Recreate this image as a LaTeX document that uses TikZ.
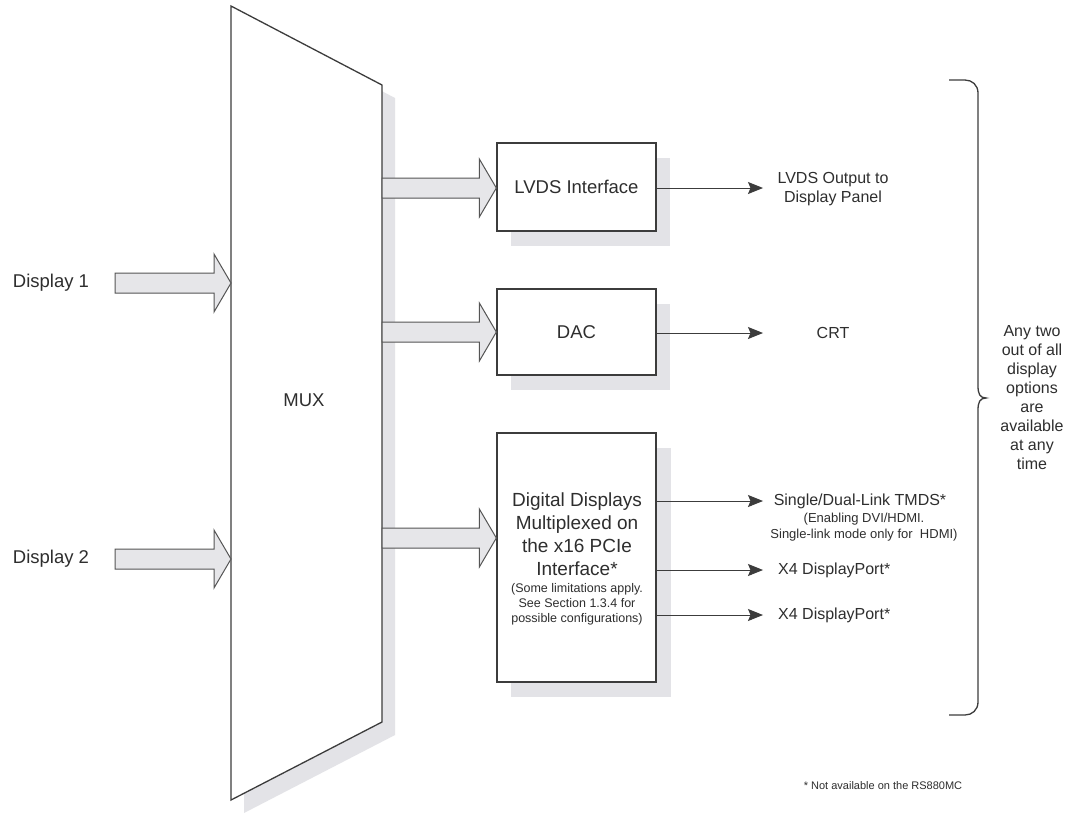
\documentclass[tikz,border=0pt]{standalone}
\usepackage{fontspec}
\setmainfont{Liberation Sans}
\usetikzlibrary{arrows.meta,calc}
\definecolor{txt}{HTML}{2E2E2E}
\definecolor{ln}{HTML}{3C3C3C}
\definecolor{shd}{HTML}{E3E3E7}
\definecolor{afill}{HTML}{E6E6E9}
\definecolor{aedge}{HTML}{555555}
\newcommand\fatarrow[2]{%
  \draw[fat] ($(#1)+(0,-10)$) -- ($(#2)+(-17,-10)$) -- ($(#2)+(-17,-29)$) -- (#2)
    -- ($(#2)+(-17,29)$) -- ($(#2)+(-17,10)$) -- ($(#1)+(0,10)$) -- cycle;}
\begin{document}
\begin{tikzpicture}[x=1pt,y=-1pt,
  every node/.style={text=txt, inner sep=0pt},
  blk/.style={draw=ln, line width=1.3pt, fill=white, minimum width=159pt},
  fat/.style={draw=aedge, line width=1pt, fill=afill},
  thin/.style={draw=ln, line width=1pt, -{Stealth[length=15pt,width=12pt,inset=2.5pt]}},
  big/.style={font=\fontsize{18.5}{22}\selectfont, align=center},
  lab/.style={font=\fontsize{16}{19}\selectfont, align=center},
  small/.style={font=\fontsize{13}{15.5}\selectfont, align=center}]

\useasboundingbox (0,0) rectangle (1067,812);
\fill[white] (0,0) rectangle (1067,812);

% MUX with shadow
\fill[shd] (244,19) -- (395,98) -- (395,735) -- (244,813) -- cycle;
\draw[draw=ln, line width=1.3pt, fill=white] (231,6) -- (382,85) -- (382,722) -- (231,800) -- cycle;
\node[big] (mux) at (304,400) {MUX};

% box shadows
\fill[shd] (511,158) rectangle (670,246);
\fill[shd] (511,304) rectangle (670,390);
\fill[shd] (511,448) rectangle (671,697);

% boxes
\node[blk, minimum height=88pt] (lvds) at (576.5,187) {};
\node[big] at (lvds.center) {LVDS Interface};
\node[blk, minimum height=86pt] (dac) at (576.5,332) {};
\node[big] at (dac.center) {DAC};
\node[blk, minimum height=249pt] (dig) at (576.5,557.5) {};
\node[font=\fontsize{19}{23}\selectfont, align=center] (digtxt) at (577,534)
  {Digital Displays\\Multiplexed on\\the x16 PCIe\\Interface*};
\node[font=\fontsize{12.5}{15}\selectfont, align=center] (diglim) at (577,604)
  {(Some limitations apply.\\See Section 1.3.4 for\\possible configurations)};

% inputs
\node[big] (d1) at (51,283) {Display 1};
\node[big] (d2) at (51,559) {Display 2};
\coordinate (d1tail) at (115,283);
\coordinate (d1tip) at (231,283);
\coordinate (d2tail) at (115,559);
\coordinate (d2tip) at (231,559);
\fatarrow{d1tail}{d1tip}
\fatarrow{d2tail}{d2tip}

% MUX to blocks
\coordinate (m1) at (382,188);
\coordinate (m2) at (382,332);
\coordinate (m3) at (382,538);
\fatarrow{m1}{lvds.west |- m1}
\fatarrow{m2}{dac.west |- m2}
\fatarrow{m3}{dig.west |- m3}

% outputs
\node[lab] (lvdsout) at (833,189) {LVDS Output to\\Display Panel};
\node[lab] (crt) at (833,333) {CRT};
\node[lab] (tmds) at (860,501) {Single/Dual-Link TMDS*};
\node[small] (tmdsnote) at (864,527) {(Enabling DVI/HDMI.\\Single-link mode only for\ \ HDMI)};
\node[lab, anchor=west] (dp1) at (778,570) {X4 DisplayPort*};
\node[lab, anchor=west] (dp2) at (778,615) {X4 DisplayPort*};

\coordinate (o1) at (763,188);
\coordinate (o2) at (763,333);
\coordinate (o3) at (763,501);
\coordinate (o4) at (763,570);
\coordinate (o5) at (763,615);
\draw[thin] (lvds.east |- o1) -- (o1);
\draw[thin] (dac.east |- o2) -- (o2);
\draw[thin] (dig.east |- o3) -- (o3);
\draw[thin] (dig.east |- o4) -- (o4);
\draw[thin] (dig.east |- o5) -- (o5);

% brace
\draw[draw=ln, line width=1.3pt] (949,80) -- (965,80) .. controls (972,80) and (978,85) .. (978,93)
  -- (978,386) .. controls (978,394) and (980,398) .. (986,398)
  .. controls (980,398) and (978,402) .. (978,410)
  -- (978,702) .. controls (978,710) and (972,715) .. (965,715) -- (949,715);
\node[lab] (any) at (1032,398) {Any two\\out of all\\display\\options\\are\\available\\at any\\time};

% footnote
\node[font=\fontsize{11}{13}\selectfont] (fn) at (883,786) {* Not available on the RS880MC};
\end{tikzpicture}
\end{document}
